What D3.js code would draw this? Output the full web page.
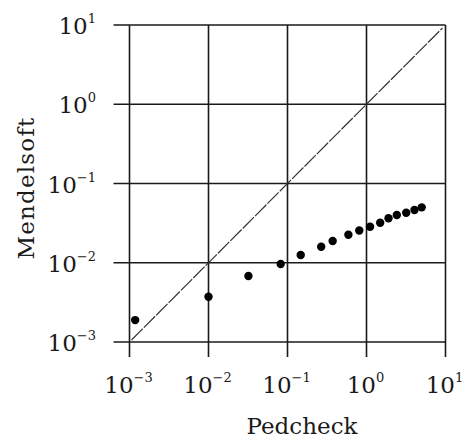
<!DOCTYPE html>
<html lang="en">
<head>
<meta charset="utf-8">
<title>Mendelsoft vs Pedcheck</title>
<script src="https://cdn.jsdelivr.net/npm/d3@7/dist/d3.min.js"></script>
<style>
  body { margin: 0; background: #fff; }
  text { font-family: "DejaVu Serif", serif; fill: #1a1a1a; }
</style>
</head>
<body>
<script>
// tick values (powers of ten) and their exponents
var tickExps = [-3, -2, -1, 0, 1];
var tickVals = tickExps.map(function(e){ return Math.pow(10, e); });

// data
var pedcheck = [0.00118, 0.01, 0.032, 0.082, 0.147, 0.267, 0.373, 0.59, 0.81,
                1.11, 1.49, 1.90, 2.42, 3.18, 4.05, 5.0];
var mendelsoft = [0.00189, 0.00373, 0.0068, 0.00965, 0.01253, 0.01595, 0.0188, 0.0226, 0.0255,
                  0.0285, 0.032, 0.0364, 0.040, 0.0428, 0.0463, 0.050];

var W = 465, H = 443;
// plot box (window.top is reserved, so use other names)
var pLeft = 129.5, pRight = 445.5, pTop = 25, pBottom = 342;

var svg = d3.select("body").append("svg")
  .attr("width", W).attr("height", H);

var x = d3.scaleLog().domain([1e-3, 1e1]).range([pLeft, pRight]);
var y = d3.scaleLog().domain([1e-3, 1e1]).range([pBottom, pTop]);

// grid lines, they stick out past the plot on the left and bottom as ticks
svg.selectAll(".vgrid").data(tickVals).enter().append("line")
  .attr("class", "vgrid")
  .attr("x1", function(d){ return x(d); }).attr("x2", function(d){ return x(d); })
  .attr("y1", pTop).attr("y2", pBottom + 15)
  .style("stroke", "#1a1a1a").style("stroke-width", 1.6);

svg.selectAll(".hgrid").data(tickVals).enter().append("line")
  .attr("class", "hgrid")
  .attr("x1", pLeft - 16).attr("x2", pRight)
  .attr("y1", function(d){ return y(d); }).attr("y2", function(d){ return y(d); })
  .style("stroke", "#1a1a1a").style("stroke-width", 1.6);

// diagonal y = x
svg.append("line")
  .attr("x1", x(1e-3) + 2).attr("y1", y(1e-3) - 2)
  .attr("x2", x(1e1) - 3).attr("y2", y(1e1) + 3)
  .style("stroke", "#333").style("stroke-width", 1.2)
  .style("stroke-dasharray", "16,1.5");

// x tick labels: 10 with superscript exponent
var xl = svg.selectAll(".xlab").data(tickExps).enter().append("text")
  .attr("class", "xlab")
  .attr("x", function(d){ return x(Math.pow(10, d)) - 1; })
  .attr("y", pBottom + 51)
  .attr("text-anchor", "middle")
  .style("font-size", "23px");
xl.append("tspan").text("10");
xl.append("tspan").attr("dy", -11).style("font-size", "13px")
  .text(function(d){ return d < 0 ? "\u2212" + (-d) : d; });

// y tick labels
var yl = svg.selectAll(".ylab").data(tickExps).enter().append("text")
  .attr("class", "ylab")
  .attr("x", 96)
  .attr("y", function(d){ return y(Math.pow(10, d)) + 9; })
  .attr("text-anchor", "end")
  .style("font-size", "23px");
yl.append("tspan").text("10");
yl.append("tspan").attr("dy", -11).style("font-size", "13px")
  .text(function(d){ return d < 0 ? "\u2212" + (-d) : d; });

// points
svg.selectAll(".pt").data(pedcheck).enter().append("circle")
  .attr("class", "pt")
  .attr("cx", function(d){ return x(d); })
  .attr("cy", function(d, i){ return y(mendelsoft[i]); })
  .attr("r", 4.2)
  .style("fill", "#000");

// axis titles
svg.append("text")
  .attr("x", 302).attr("y", 434)
  .attr("text-anchor", "middle")
  .style("font-size", "23px")
  .text("Pedcheck");

svg.append("text")
  .attr("transform", "translate(34,188) rotate(-90)")
  .attr("text-anchor", "middle")
  .style("font-size", "23px")
  .style("letter-spacing", "1.2px")
  .text("Mendelsoft");
</script>
</body>
</html>
